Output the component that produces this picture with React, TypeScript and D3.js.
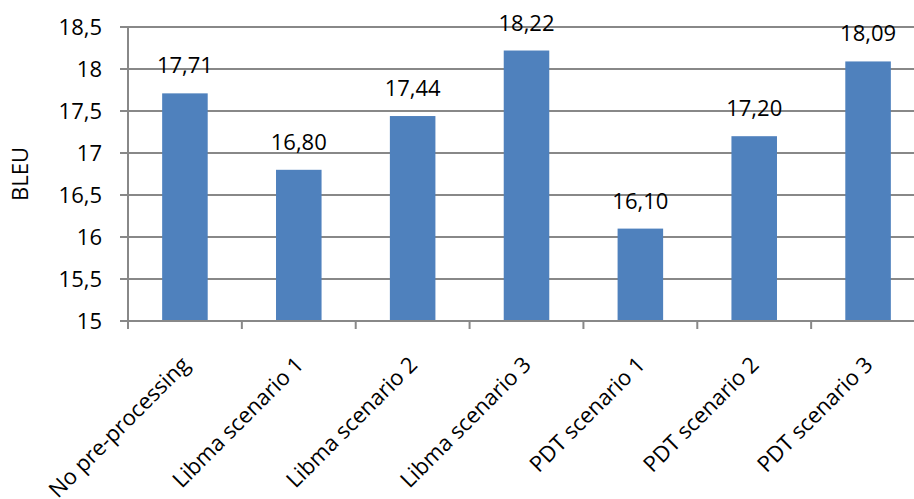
import React from "react";
import * as d3 from "d3";

const categories = [
  "No pre-processing",
  "Libma scenario 1",
  "Libma scenario 2",
  "Libma scenario 3",
  "PDT scenario 1",
  "PDT scenario 2",
  "PDT scenario 3",
];
const values = [17.71, 16.8, 17.44, 18.22, 16.1, 17.2, 18.09];
const yTicks = [15, 15.5, 16, 16.5, 17, 17.5, 18, 18.5];
const yTitle = "BLEU";

const W = 914;
const H = 499;
const left = 128;
const right = 925;
const top = 27;
const bottom = 321;
const font = "'Open Sans', 'Liberation Sans', sans-serif";
const gridColor = "#888888";
const barColor = "#4F81BD";

const fmt = (v: number, d: number) => v.toFixed(d).replace(".", ",");

export default function App() {
  const x = d3
    .scaleBand<string>()
    .domain(categories)
    .range([left, right])
    .paddingInner(0.6)
    .paddingOuter(0.3);
  const band = d3.scaleBand<string>().domain(categories).range([left, right]);
  const y = d3.scaleLinear().domain([15, 18.5]).range([bottom, top]);

  return (
    <svg
      width={W}
      height={H}
      style={{ position: "absolute", left: 0, top: 0, display: "block", background: "#fff" }}
      fontFamily={font}
    >
      {yTicks.map((t) => (
        <g key={t}>
          {t > 15 && (
            <line x1={left} x2={right} y1={y(t)} y2={y(t)} stroke={gridColor} strokeWidth={2} />
          )}
          <line x1={left - 8} x2={left} y1={y(t)} y2={y(t)} stroke={gridColor} strokeWidth={2} />
          <text x={102} y={y(t) + 7.5} textAnchor="end" fontSize={22} fill="#000">
            {Number.isInteger(t) ? String(t) : fmt(t, 1)}
          </text>
        </g>
      ))}
      {categories.map((c, i) => (
        <rect
          key={c}
          x={x(c)}
          y={y(values[i])}
          width={x.bandwidth()}
          height={bottom - y(values[i])}
          fill={barColor}
        />
      ))}
      <line x1={left} x2={left} y1={top} y2={bottom} stroke={gridColor} strokeWidth={2} />
      <line x1={left} x2={right} y1={bottom} y2={bottom} stroke={gridColor} strokeWidth={2} />
      {categories.map((c) => (
        <line
          key={"t" + c}
          x1={band(c)}
          x2={band(c)}
          y1={bottom}
          y2={bottom + 8}
          stroke={gridColor}
          strokeWidth={2}
        />
      ))}
      {categories.map((c, i) => (
        <text
          key={"v" + c}
          x={(x(c) as number) + x.bandwidth() / 2}
          y={y(values[i]) - 20}
          textAnchor="middle"
          fontSize={22}
          fill="#000"
        >
          {fmt(values[i], 2)}
        </text>
      ))}
      {categories.map((c) => {
        const cx = (band(c) as number) + band.bandwidth() / 2;
        return (
          <text
            key={"l" + c}
            transform={`translate(${cx + 6},${bottom + 45}) rotate(-45)`}
            textAnchor="end"
            fontSize={22}
            fill="#000"
          >
            {c}
          </text>
        );
      })}
      <text
        transform={`translate(28,${(top + bottom) / 2}) rotate(-90)`}
        textAnchor="middle"
        fontSize={22}
        fill="#000"
      >
        {yTitle}
      </text>
    </svg>
  );
}
